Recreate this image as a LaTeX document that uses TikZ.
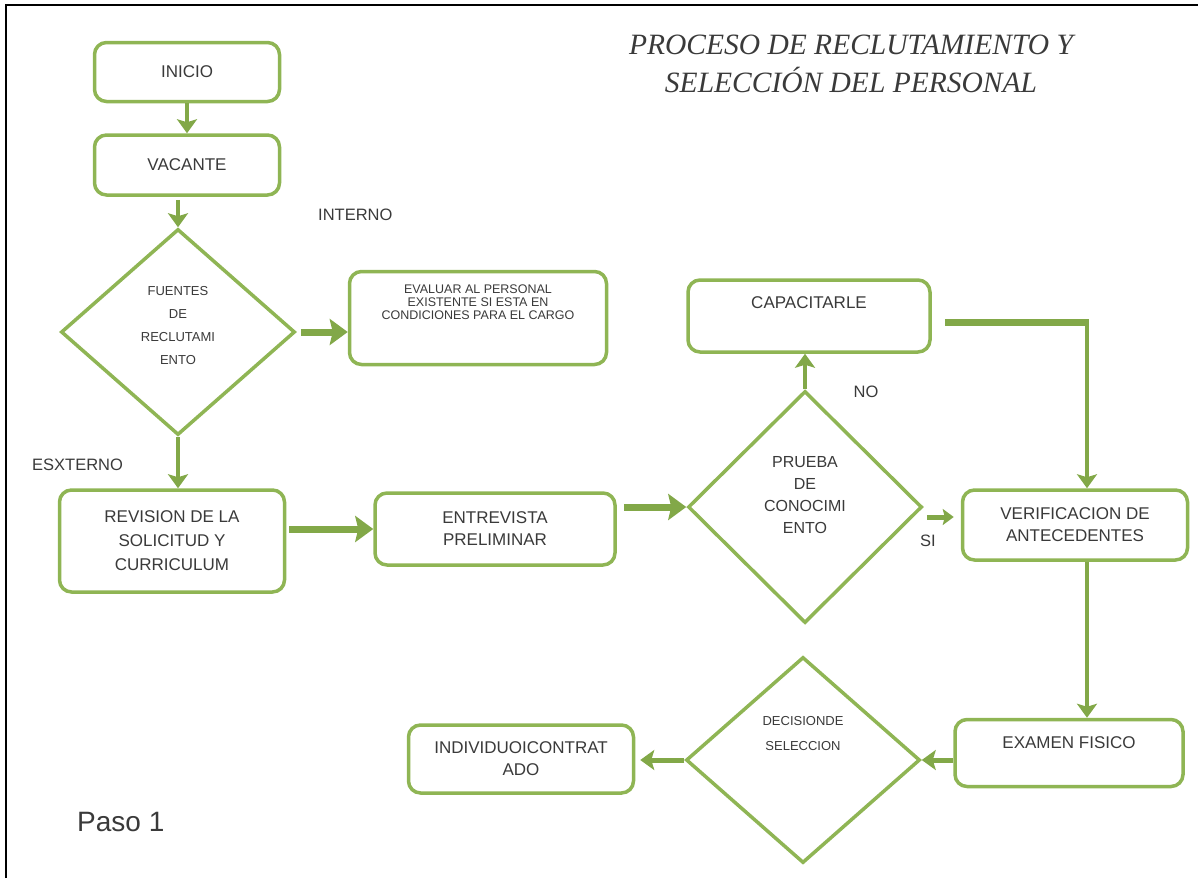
\documentclass[tikz,border=0pt]{standalone}
\usepackage{fontspec}
\setmainfont{Liberation Sans}
\newfontfamily\titlefont{Liberation Serif}
\usetikzlibrary{arrows.meta,shapes.geometric,calc}
\definecolor{leaf}{RGB}{143,181,84}
\definecolor{leafdark}{RGB}{130,168,72}
\definecolor{ink}{RGB}{58,58,58}
\newcommand\boxfont{\fontsize{17}{22}\selectfont}
\begin{document}
\begin{tikzpicture}[x=1pt,y=-1pt,
  box/.style={draw=leaf, line width=3.5pt, rounded corners=12pt, fill=white,
    inner sep=0pt, align=center, font=\boxfont, text=ink},
  decision/.style={diamond, draw=leaf, line width=3.5pt, inner sep=0pt, fill=white},
  boxtext/.style={align=center, text=ink, font=\boxfont},
  flow/.style={draw=leafdark, line width=4pt, -{Stealth[length=14pt,width=20pt,inset=3pt]}},
  bigflow/.style={draw=leafdark, line width=7pt, -{Stealth[length=18pt,width=26pt,inset=3pt]}},
  tag/.style={text=ink, font=\fontsize{16.5}{18}\selectfont, inner sep=0pt}]
\useasboundingbox (0,0) rectangle (1198,878);
% frame
\draw[line width=2pt] (6,878) -- (6,5) -- (1198,5);

% title
\node[text=ink, font=\titlefont\itshape\fontsize{29.5}{38}\selectfont, align=center] (title) at (851,64)
  {PROCESO DE RECLUTAMIENTO Y\\SELECCIÓN DEL PERSONAL};

% boxes
\node[box, minimum width=185pt, minimum height=59pt] (inicio) at (187,72) {INICIO};
\node[box, minimum width=185pt, minimum height=60pt] (vacante) at (187,165) {VACANTE};
\node[decision, minimum width=234pt, minimum height=206pt,
  label={[boxtext, font=\fontsize{13}{23}\selectfont, yshift=6pt]center:{FUENTES\\DE\\RECLUTAMI\\ENTO}}]
  (fuentes) at (178,332) {};
\node[box, minimum width=257pt, minimum height=93pt,
  label={[boxtext, font=\fontsize{12.5}{13}\selectfont, yshift=16pt]center:{EVALUAR AL PERSONAL\\EXISTENTE SI ESTA EN\\CONDICIONES PARA EL CARGO}}]
  (evaluar) at (478,318) {};
\node[box, minimum width=225pt, minimum height=102pt, font=\fontsize{17}{24}\selectfont]
  (revision) at (172,541) {REVISION DE LA\\SOLICITUD Y\\CURRICULUM};
\node[box, minimum width=240pt, minimum height=72pt] (entrevista) at (495,529) {ENTREVISTA\\PRELIMINAR};
\node[decision, minimum width=234pt, minimum height=232pt,
  label={[boxtext, font=\fontsize{16}{22}\selectfont, yshift=12pt]center:{PRUEBA\\DE\\CONOCIMI\\ENTO}}]
  (prueba) at (805,507) {};
\node[box, minimum width=242pt, minimum height=72pt,
  label={[boxtext, yshift=13pt]center:CAPACITARLE}] (capacitarle) at (809,316) {};
\node[box, minimum width=225pt, minimum height=70pt] (verificacion) at (1075,525) {VERIFICACION DE\\ANTECEDENTES};
\node[box, minimum width=228pt, minimum height=67pt,
  label={[boxtext, yshift=10pt]center:EXAMEN FISICO}] (examen) at (1069,753) {};
\node[decision, minimum width=234pt, minimum height=206pt,
  label={[boxtext, font=\fontsize{13}{25}\selectfont, yshift=26pt]center:{DECISIONDE\\SELECCION}}]
  (seleccion) at (803,760) {};
\node[box, minimum width=225pt, minimum height=68pt] (individuo) at (521,759) {INDIVIDUOICONTRAT\\ADO};

% branch labels
\node[tag, anchor=west] (interno) at (318,215) {INTERNO};
\node[tag, anchor=west] (externo) at (32,465) {ESXTERNO};
\node[tag] (no) at (866,392) {NO};
\node[tag] (si) at (928,541) {SI};
\node[text=ink, font=\fontsize{28}{30}\selectfont, anchor=west, inner sep=0pt] (paso) at (77,822) {Paso 1};

% connectors
\draw[flow] (inicio.south) -- (vacante.north);
\draw[flow, shorten <=3pt] (vacante.south -| fuentes.north) -- (fuentes.north);
\draw[bigflow, shorten <=4pt] (fuentes.east) -- (evaluar.west |- fuentes.east);
\draw[flow] (fuentes.south) -- (revision.north -| fuentes.south);
\draw[bigflow, shorten <=3pt] (revision.east |- entrevista.west) -- (entrevista.west);
\draw[bigflow, shorten <=7pt] (entrevista.east |- prueba.west) -- (prueba.west);
\draw[flow] (prueba.north) -- (capacitarle.south -| prueba.north);
\coordinate (bend) at (1087,322);
\draw[draw=leafdark, line width=7pt, shorten <=13pt] (capacitarle.east |- bend) -- ($(bend)+(2,0)$);
\draw[flow] (bend) -- (verificacion.north -| bend);
\draw[draw=leafdark, line width=5pt, -{Stealth[length=11pt,width=16pt,inset=2pt]}]
  ($(prueba.east)+(3,10)$) -- ($(verificacion.west |- prueba.east)+(-7,10)$);
\draw[flow] (verificacion.south -| bend) -- (examen.north -| bend);
\draw[flow, line width=5pt] (examen.west |- seleccion.east) -- (seleccion.east);
\draw[flow, line width=5pt, shorten >=5pt] (seleccion.west) -- (individuo.east |- seleccion.west);
\end{tikzpicture}
\end{document}
